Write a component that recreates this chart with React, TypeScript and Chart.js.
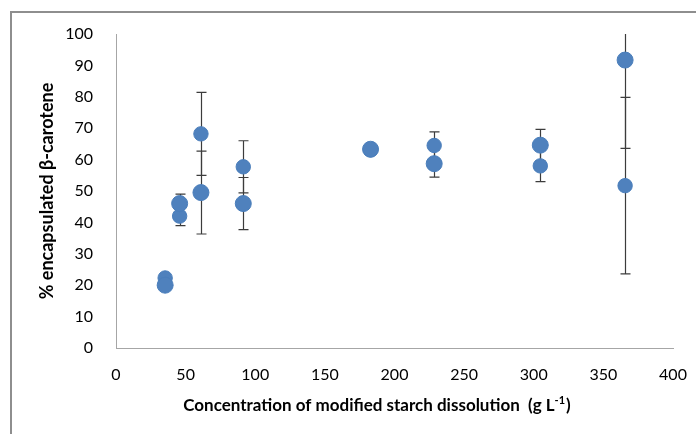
import { useEffect, useRef } from "react";
import { Chart, registerables } from "chart.js";

Chart.register(...registerables);

// ---- data ----
const concentrations = [35.3, 45.7, 61, 91.4, 182.8, 228.5, 304.7, 365.6];
const seriesA = [20, 46, 49.5, 46, 63.3, 58.7, 64.6, 91.7];
const seriesB = [22.3, 42, 68.2, 57.7, 63.1, 64.5, 58, 51.7];
const errorsA = [0.6, 3, 13.2, 8.3, 0.6, 4.3, 5, 28.1];
const errorsB = [0.6, 3, 13.2, 8.3, 0.6, 4.3, 5, 28.1];
const xTickValues = [0, 50, 100, 150, 200, 250, 300, 350, 400];
const yTickValues = [0, 10, 20, 30, 40, 50, 60, 70, 80, 90, 100];
const xTitleMain = "Concentration of modified starch dissolution  (g L";
const xTitleSup = "-1";
const xTitleEnd = ")";
const yTitle = "% encapsulated β-carotene";

const FONT = "Lato, 'Open Sans', sans-serif";
const BLUE = "#4F81BD";

const errorBarPlugin = {
  id: "errorBars",
  beforeDatasetsDraw(chart: any) {
    const { ctx, chartArea, scales } = chart;
    const xs = scales.x;
    const ys = scales.y;
    ctx.save();
    ctx.beginPath();
    ctx.rect(chartArea.left, chartArea.top, chartArea.right - chartArea.left, chartArea.bottom - chartArea.top);
    ctx.clip();
    ctx.strokeStyle = "#3c3c3c";
    ctx.lineWidth = 1.2;
    chart.data.datasets.forEach((ds: any) => {
      const errs: number[] = ds.errors || [];
      ds.data.forEach((p: any, i: number) => {
        const e = errs[i];
        if (!e) return;
        const px = Math.round(xs.getPixelForValue(p.x)) + 0.5;
        const yTop = ys.getPixelForValue(p.y + e);
        const yBot = ys.getPixelForValue(p.y - e);
        ctx.beginPath();
        ctx.moveTo(px, yTop);
        ctx.lineTo(px, yBot);
        ctx.moveTo(px - 5, yTop);
        ctx.lineTo(px + 5, yTop);
        ctx.moveTo(px - 5, yBot);
        ctx.lineTo(px + 5, yBot);
        ctx.stroke();
      });
    });
    ctx.restore();
  },
};

const xTitlePlugin = {
  id: "xTitle",
  afterDraw(chart: any) {
    const { ctx } = chart;
    ctx.save();
    ctx.fillStyle = "#000";
    ctx.textBaseline = "middle";
    ctx.textAlign = "left";
    const mainFont = `bold 17px ${FONT}`;
    const supFont = `bold 11px ${FONT}`;
    ctx.font = mainFont;
    const w1 = ctx.measureText(xTitleMain).width;
    const w3 = ctx.measureText(xTitleEnd).width;
    ctx.font = supFont;
    const w2 = ctx.measureText(xTitleSup).width;
    const total = w1 + w2 + w3 + 1;
    const cx = 377;
    const cy = 406;
    let x = cx - total / 2;
    ctx.font = mainFont;
    ctx.fillText(xTitleMain, x, cy);
    x += w1;
    ctx.font = supFont;
    ctx.fillText(xTitleSup, x, cy - 6);
    x += w2 + 1;
    ctx.font = mainFont;
    ctx.fillText(xTitleEnd, x, cy);
    ctx.restore();
  },
};

export default function App() {
  const canvasRef = useRef<HTMLCanvasElement | null>(null);

  useEffect(() => {
    if (!canvasRef.current) return;
    const mk = (ys: number[]) => concentrations.map((x, i) => ({ x, y: ys[i] }));
    const chart = new Chart(canvasRef.current, {
      type: "scatter",
      data: {
        datasets: [
          {
            label: "A",
            data: mk(seriesA),
            errors: errorsA,
            pointRadius: 8,
            pointHoverRadius: 8,
            backgroundColor: BLUE,
            borderColor: "#4A7EBB",
            borderWidth: 1,
          } as any,
          {
            label: "B",
            data: mk(seriesB),
            errors: errorsB,
            pointRadius: 7.2,
            pointHoverRadius: 7.2,
            backgroundColor: BLUE,
            borderColor: "#4A7EBB",
            borderWidth: 1,
          } as any,
        ],
      },
      options: {
        animation: false,
        responsive: false,
        devicePixelRatio: 1,
        events: [],
        layout: { padding: { left: 0, right: 23, top: 34, bottom: 0 } },
        plugins: {
          legend: { display: false },
          tooltip: { enabled: false },
        },
        scales: {
          x: {
            type: "linear",
            min: 0,
            max: 400,
            afterBuildTicks: (s: any) => {
              s.ticks = xTickValues.map((v) => ({ value: v }));
            },
            afterFit: (s: any) => {
              s.height = 86;
              s.paddingLeft = 0;
              s.paddingRight = 0;
            },
            grid: { display: false, drawTicks: false },
            border: { display: true, color: "#a6a6a6", width: 1 },
            ticks: {
              padding: 17,
              color: "#000",
              font: { family: FONT, size: 16 },
              maxRotation: 0,
            },
          },
          y: {
            type: "linear",
            min: 0,
            max: 100,
            afterBuildTicks: (s: any) => {
              s.ticks = yTickValues.map((v) => ({ value: v }));
            },
            afterFit: (s: any) => {
              s.width = 116;
              s.paddingTop = 0;
              s.paddingBottom = 0;
            },
            grid: { display: false, drawTicks: false },
            border: { display: true, color: "#a6a6a6", width: 1 },
            ticks: {
              padding: 23,
              color: "#000",
              font: { family: FONT, size: 16 },
            },
            title: {
              display: true,
              text: yTitle,
              color: "#000",
              font: { family: FONT, size: 18, weight: "bold" },
              padding: { top: 36, bottom: 0 },
            },
          },
        },
      },
      plugins: [errorBarPlugin, xTitlePlugin],
    } as any);
    return () => chart.destroy();
  }, []);

  return (
    <div
      style={{
        position: "fixed",
        left: 0,
        top: 0,
        width: 696,
        height: 434,
        background: "#fff",
        overflow: "hidden",
      }}
    >
      <div
        style={{
          position: "absolute",
          left: 10,
          top: 11,
          width: 800,
          height: 600,
          borderLeft: "2px solid #8e8e8e",
          borderTop: "2px solid #8e8e8e",
          pointerEvents: "none",
        }}
      />
      <canvas
        ref={canvasRef}
        width={696}
        height={434}
        style={{ position: "absolute", left: 0, top: 0, width: 696, height: 434 }}
      />
    </div>
  );
}
